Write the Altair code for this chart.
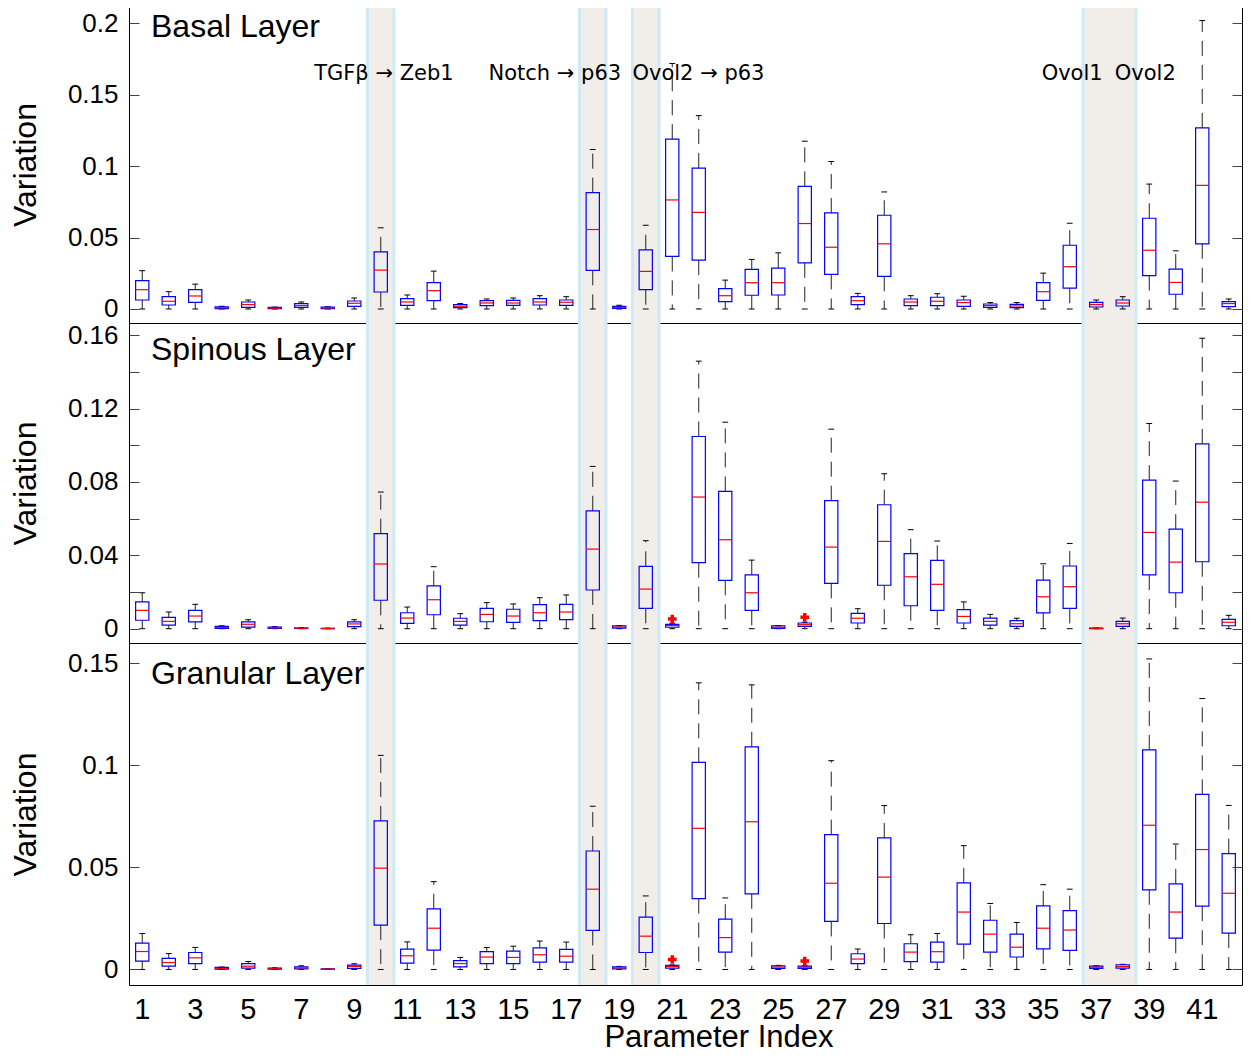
import altair as alt
import pandas as pd

# ---------------- data ----------------
idx = list(range(1, 43))
whisker_low = [0, 0, 0, 0, 0, 0, 0, 0, 0, 0, 0, 0, 0, 0, 0, 0, 0, 0, 0, 0, 0,
               0, 0, 0, 0, 0, 0, 0, 0, 0, 0, 0, 0, 0, 0, 0, 0, 0, 0, 0, 0, 0]

# Basal layer
basal_hi = [0.0268, 0.0121, 0.0174, 0.0019, 0.0063, 0.0013, 0.0049, 0.0016, 0.0077, 0.0568,
            0.0098, 0.0265, 0.0038, 0.0070, 0.0077, 0.0093, 0.0086, 0.1116, 0.0026, 0.0586,
            0.1718, 0.1353, 0.0202, 0.0347, 0.0393, 0.1174, 0.1032, 0.0109, 0.0819, 0.0093,
            0.0107, 0.0089, 0.0045, 0.0045, 0.0251, 0.0600, 0.0063, 0.0086, 0.0874, 0.0407,
            0.2018, 0.0070]
basal_q3 = [0.0198, 0.0086, 0.0135, 0.0015, 0.0049, 0.0011, 0.0038, 0.0013, 0.0056, 0.0400,
            0.0072, 0.0184, 0.0031, 0.0058, 0.0061, 0.0072, 0.0063, 0.0814, 0.0019, 0.0414,
            0.1188, 0.0986, 0.0142, 0.0277, 0.0286, 0.0858, 0.0672, 0.0086, 0.0656, 0.0070,
            0.0082, 0.0063, 0.0035, 0.0033, 0.0184, 0.0446, 0.0047, 0.0063, 0.0635, 0.0279,
            0.1267, 0.0052]
basal_med = [0.0135, 0.0054, 0.0091, 0.0009, 0.0031, 0.0006, 0.0024, 0.0008, 0.0040, 0.0272,
             0.0049, 0.0128, 0.0019, 0.0042, 0.0042, 0.0049, 0.0047, 0.0556, 0.0011, 0.0263,
             0.0763, 0.0676, 0.0093, 0.0184, 0.0184, 0.0598, 0.0432, 0.0058, 0.0456, 0.0049,
             0.0054, 0.0045, 0.0024, 0.0021, 0.0121, 0.0296, 0.0031, 0.0042, 0.0411, 0.0186,
             0.0865, 0.0038]
basal_q1 = [0.0063, 0.0028, 0.0047, 0.0003, 0.0012, 0.0002, 0.0012, 0.0003, 0.0019, 0.0119,
            0.0026, 0.0058, 0.0010, 0.0024, 0.0026, 0.0028, 0.0026, 0.0270, 0.0004, 0.0135,
            0.0368, 0.0342, 0.0051, 0.0096, 0.0098, 0.0323, 0.0242, 0.0031, 0.0228, 0.0024,
            0.0024, 0.0019, 0.0012, 0.0010, 0.0061, 0.0146, 0.0014, 0.0021, 0.0233, 0.0103,
            0.0456, 0.0017]

# Spinous layer
spin_hi = [0.0196, 0.0091, 0.0133, 0.0016, 0.0049, 0.0011, 0.0005, 0.0003, 0.0049, 0.0745,
           0.0118, 0.0338, 0.0082, 0.0142, 0.0135, 0.0169, 0.0184, 0.0885, 0.0017, 0.0480,
           0.0030, 0.1459, 0.1126, 0.0374, 0.0017, 0.0035, 0.1088, 0.0109, 0.0845, 0.0540,
           0.0478, 0.0146, 0.0078, 0.0057, 0.0354, 0.0465, 0.0004, 0.0058, 0.1119, 0.0805,
           0.1584, 0.0073]
spin_q3 = [0.0146, 0.0062, 0.0100, 0.0013, 0.0037, 0.0009, 0.0004, 0.0002, 0.0037, 0.0518,
           0.0087, 0.0234, 0.0057, 0.0111, 0.0106, 0.0131, 0.0133, 0.0643, 0.0015, 0.0340,
           0.0024, 0.1048, 0.0749, 0.0294, 0.0015, 0.0031, 0.0698, 0.0084, 0.0676, 0.0409,
           0.0373, 0.0104, 0.0058, 0.0044, 0.0265, 0.0342, 0.0003, 0.0040, 0.0810, 0.0543,
           0.1008, 0.0051]
spin_med = [0.0100, 0.0040, 0.0069, 0.0007, 0.0024, 0.0005, 0.0002, 0.0001, 0.0026, 0.0353,
            0.0058, 0.0158, 0.0040, 0.0078, 0.0069, 0.0087, 0.0091, 0.0434, 0.0009, 0.0216,
            0.0017, 0.0718, 0.0485, 0.0196, 0.0008, 0.0022, 0.0445, 0.0057, 0.0476, 0.0283,
            0.0242, 0.0067, 0.0040, 0.0027, 0.0174, 0.0229, 0.0002, 0.0027, 0.0525, 0.0363,
            0.0690, 0.0035]
spin_q1 = [0.0046, 0.0020, 0.0037, 0.0002, 0.0009, 0.0002, 0.0001, 0.0000, 0.0011, 0.0155,
           0.0029, 0.0076, 0.0020, 0.0038, 0.0035, 0.0044, 0.0049, 0.0211, 0.0003, 0.0111,
           0.0008, 0.0360, 0.0264, 0.0100, 0.0002, 0.0013, 0.0247, 0.0031, 0.0237, 0.0125,
           0.0100, 0.0031, 0.0020, 0.0013, 0.0086, 0.0111, 0.0000, 0.0013, 0.0293, 0.0196,
           0.0365, 0.0016]
spin_out_idx = [21, 26]
spin_out_val = [0.0053, 0.0062]

# Granular layer
gran_hi = [0.0176, 0.0078, 0.0108, 0.0012, 0.0039, 0.0008, 0.0018, 0.0004, 0.0028, 0.1048,
           0.0135, 0.0430, 0.0059, 0.0108, 0.0114, 0.0139, 0.0134, 0.0799, 0.0015, 0.0360,
           0.0022, 0.1403, 0.0350, 0.1393, 0.0020, 0.0018, 0.1022, 0.0100, 0.0802, 0.0170,
           0.0176, 0.0606, 0.0323, 0.0230, 0.0415, 0.0393, 0.0018, 0.0025, 0.1520, 0.0614,
           0.1326, 0.0803]
gran_q3 = [0.0129, 0.0054, 0.0083, 0.0010, 0.0029, 0.0007, 0.0013, 0.0003, 0.0021, 0.0727,
           0.0100, 0.0297, 0.0043, 0.0087, 0.0090, 0.0106, 0.0098, 0.0580, 0.0013, 0.0256,
           0.0020, 0.1014, 0.0246, 0.1090, 0.0018, 0.0016, 0.0660, 0.0077, 0.0644, 0.0126,
           0.0134, 0.0424, 0.0241, 0.0173, 0.0311, 0.0288, 0.0016, 0.0023, 0.1075, 0.0419,
           0.0857, 0.0567]
gran_med = [0.0088, 0.0034, 0.0057, 0.0005, 0.0016, 0.0004, 0.0008, 0.0002, 0.0015, 0.0496,
            0.0067, 0.0202, 0.0029, 0.0061, 0.0059, 0.0072, 0.0065, 0.0393, 0.0008, 0.0163,
            0.0015, 0.0691, 0.0156, 0.0723, 0.0012, 0.0011, 0.0422, 0.0051, 0.0452, 0.0085,
            0.0087, 0.0281, 0.0173, 0.0109, 0.0202, 0.0193, 0.0011, 0.0015, 0.0706, 0.0281,
            0.0587, 0.0373]
gran_q1 = [0.0041, 0.0016, 0.0029, 0.0001, 0.0007, 0.0001, 0.0003, 0.0001, 0.0005, 0.0217,
           0.0031, 0.0095, 0.0013, 0.0029, 0.0029, 0.0036, 0.0036, 0.0191, 0.0003, 0.0083,
           0.0007, 0.0347, 0.0085, 0.0370, 0.0005, 0.0005, 0.0235, 0.0029, 0.0225, 0.0038,
           0.0036, 0.0124, 0.0085, 0.0061, 0.0101, 0.0093, 0.0005, 0.0007, 0.0390, 0.0153,
           0.0310, 0.0178]
gran_out_idx = [21, 26]
gran_out_val = [0.0049, 0.0041]

# highlighted parameter bands
band_start = [9.5, 17.5, 19.5, 36.5]
band_end = [10.5, 18.5, 20.5, 38.5]

# annotations in the basal panel
annot_text = ["TGFβ → Zeb1", "Notch → p63", "Ovol2 → p63", "Ovol1", "Ovol2"]
annot_x = [10.12, 16.57, 21.99, 36.09, 38.85]
annot_y = [0.160, 0.160, 0.160, 0.160, 0.160]

panel_titles = ["Basal Layer", "Spinous Layer", "Granular Layer"]
x_tick_values = [1, 3, 5, 7, 9, 11, 13, 15, 17, 19, 21, 23, 25, 27, 29, 31, 33, 35, 37, 39, 41]
x_title = ["Parameter Index"]

# ---------------- styling ----------------
XDOM = [0.5, 42.5]
PLOT_W = 1113
BOX_HALF = 0.25
CAP_HALF = 0.11
BAND_FILL = "#F1EEEA"
BAND_EDGE = "#CFEAF7"
FONT = "Liberation Sans"

band_df = pd.DataFrame({"start": band_start, "end": band_end})
edge_df = pd.DataFrame({"pos": band_start + band_end})


def xenc(field):
    return alt.X(field, type="quantitative",
                 scale=alt.Scale(domain=XDOM, nice=False, zero=False), axis=None)


def make_panel(df, ydom, yvals, height, title, title_top, with_x=False, outl=None,
               annot=None, label_expr=None):
    ysc = alt.Scale(domain=ydom, nice=False, zero=False)
    left_kwargs = dict(orient="left", values=yvals, offset=-10, tickSize=10,
                       domain=False, grid=False, labelPadding=11, labelFontSize=26,
                       labelFont=FONT, labelColor="black", tickColor="#444",
                       labelOverlap=False, title="Variation", titleFontSize=32,
                       titleFont=FONT, titleFontWeight="normal", titleColor="black",
                       titlePadding=25)
    if label_expr:
        left_kwargs["labelExpr"] = label_expr
    else:
        left_kwargs["format"] = "~g"
    left_axis = alt.Axis(**left_kwargs)
    right_axis = alt.Axis(orient="right", values=yvals, offset=-10, tickSize=10,
                          domain=False, grid=False, labels=False, tickColor="#444",
                          title="", titlePadding=0)

    base = alt.Chart(df).transform_calculate(
        x0=f"datum.idx - {BOX_HALF}", x1=f"datum.idx + {BOX_HALF}",
        c0=f"datum.idx - {CAP_HALF}", c1=f"datum.idx + {CAP_HALF}")

    bands = alt.Chart(band_df).mark_rect(color=BAND_FILL).encode(
        x=xenc("start"), x2="end")
    edges = alt.Chart(edge_df).mark_rule(color=BAND_EDGE, strokeWidth=3).encode(
        x=xenc("pos"))
    upper = base.mark_rule(color="#222", strokeWidth=1, strokeDash=[15, 9]).encode(
        x=xenc("idx"), y=alt.Y("q3:Q", scale=ysc, axis=None), y2="hi:Q")
    lower = base.mark_rule(color="#222", strokeWidth=1, strokeDash=[15, 9]).encode(
        x=xenc("idx"), y=alt.Y("q1:Q", scale=ysc, axis=None), y2="lo:Q")
    cap_hi = base.mark_rule(color="black", strokeWidth=1).encode(
        x=xenc("c0"), x2="c1:Q", y=alt.Y("hi:Q", scale=ysc, axis=None))
    cap_lo = base.mark_rule(color="black", strokeWidth=1).encode(
        x=xenc("c0"), x2="c1:Q", y=alt.Y("lo:Q", scale=ysc, axis=None))
    boxes = base.mark_rect(filled=False, color="#0000FF", strokeWidth=1.2).encode(
        x=xenc("x0"), x2="x1:Q",
        y=alt.Y("q1:Q", scale=ysc, axis=left_axis), y2="q3:Q")
    medians = base.mark_rule(color="#FF0000", strokeWidth=1.2).encode(
        x=xenc("x0"), x2="x1:Q", y=alt.Y("med:Q", scale=ysc, axis=right_axis))
    ttl = alt.Chart(pd.DataFrame({"t": [title]})).mark_text(
        align="left", baseline="top", fontSize=32, font=FONT, color="black"
    ).encode(text="t:N", x=alt.value(22), y=alt.value(title_top))

    layers = [bands, edges, upper, lower, cap_hi, cap_lo, boxes, medians]
    if with_x:
        layers.append(alt.Chart(pd.DataFrame({"v": x_tick_values})).mark_text(
            align="center", baseline="alphabetic", fontSize=29, font=FONT, color="black"
        ).encode(x=xenc("v"), y=alt.value(height + 34),
                 text=alt.Text("v:Q", format="d")))
        layers.append(alt.Chart(pd.DataFrame({"t": x_title})).mark_text(
            align="center", baseline="alphabetic", fontSize=31, font=FONT, color="black"
        ).encode(x=alt.value(590), y=alt.value(height + 62), text="t:N"))
    if outl is not None:
        layers.append(alt.Chart(outl).mark_point(
            shape="cross", filled=True, color="#FF0000", size=75, opacity=1
        ).encode(x=xenc("idx"), y=alt.Y("val:Q", scale=ysc, axis=None)))
    if annot is not None:
        layers.append(alt.Chart(annot).mark_text(
            align="center", baseline="alphabetic", fontSize=21, font="DejaVu Sans",
            color="black"
        ).encode(x=xenc("ax"), y=alt.Y("ay:Q", scale=ysc, axis=None), text="label:N"))
    layers.append(ttl)
    return alt.layer(*layers).resolve_axis(y="independent").properties(
        width=PLOT_W, height=height)


def pdf(lo, q1, med, q3, hi):
    return pd.DataFrame({"idx": idx, "lo": lo, "q1": q1, "med": med, "q3": q3, "hi": hi})


basal_df = pdf(whisker_low, basal_q1, basal_med, basal_q3, basal_hi)
spin_df = pdf(whisker_low, spin_q1, spin_med, spin_q3, spin_hi)
gran_df = pdf(whisker_low, gran_q1, gran_med, gran_q3, gran_hi)

annot_df = pd.DataFrame({"label": annot_text, "ax": annot_x, "ay": annot_y})
spin_out = pd.DataFrame({"idx": spin_out_idx, "val": spin_out_val})
gran_out = pd.DataFrame({"idx": gran_out_idx, "val": gran_out_val})

p1 = make_panel(basal_df, [-0.0098, 0.212], [0, 0.05, 0.1, 0.15, 0.2], 317,
                panel_titles[0], 6, annot=annot_df)
p2 = make_panel(spin_df, [-0.0078, 0.1667],
                [0, 0.02, 0.04, 0.06, 0.08, 0.1, 0.12, 0.14, 0.16], 320,
                panel_titles[1], 12, outl=spin_out,
                label_expr="round(datum.value*100) % 4 == 0 ? format(datum.value, '~g') : ''")
p3 = make_panel(gran_df, [-0.0076, 0.1598], [0, 0.05, 0.1, 0.15], 342,
                panel_titles[2], 16, with_x=True, outl=gran_out)

chart = alt.vconcat(p1, p2, p3, spacing=0, bounds="flush").properties(
    padding={"left": 0, "top": -4, "right": 0, "bottom": -4}
).configure(font=FONT).configure_view(stroke="black", strokeWidth=1)

chart.save("out.html", embed_options={"renderer": "svg", "actions": False})
